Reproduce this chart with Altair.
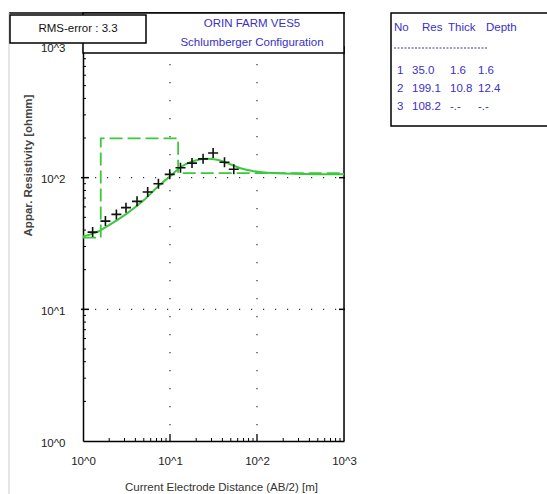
import altair as alt
import pandas as pd

# ---------------- data ----------------
# observed apparent resistivity (AB/2 [m], rho_a [ohm.m])
obs_ab2 = [1.29, 1.81, 2.42, 3.12, 4.18, 5.54, 7.36, 9.93, 13.2, 17.9, 24.0, 31.3, 42.3, 54.1]
obs_rho = [38.6, 46.8, 52.6, 59.2, 66.1, 77.8, 90.0, 106, 119, 129, 139, 154, 131, 116]

# calculated model curve
fit_ab2 = [1.0, 1.55, 2.06, 3.21, 4.98, 7.76, 10.1, 13.2, 18.7, 26.7, 34.8, 45.4, 64.6, 91.9, 131, 265, 1000]
fit_rho = [35.8, 39.5, 44.2, 53.6, 67.3, 89.0, 103, 120, 134, 139, 137, 129, 118, 112, 109, 107, 106]

# layered model
layer_no = ["1", "2", "3"]
layer_res = [35.0, 199.1, 108.2]
layer_thick = ["1.6", "10.8", "-.-"]
layer_depth = ["1.6", "12.4", "-.-"]
depth_vals = [1.6, 12.4]

rms_text = "RMS-error :  3.3"
title_lines = ["ORIN FARM VES5", "Schlumberger Configuration"]
table_header = ["No", "Res", "Thick", "Depth"]

major_vals = [1, 10, 100, 1000]
minor_vals = [m * 10 ** k for k in range(3) for m in range(2, 10)]
inner_major = [10, 100]

# ---------------- layout ----------------
W, H = 261, 395
OX, OY = 83, 46
FONT = "Liberation Sans"
FS = 11.5
BLUE = "#3a2fc8"
GREEN = "#3cc83c"

xs = alt.Scale(type="log", domain=[1, 1000])
ys = alt.Scale(type="log", domain=[1, 1000])

obs_df = pd.DataFrame({"ab2": obs_ab2, "rho": obs_rho})
fit_df = pd.DataFrame({"ab2": fit_ab2, "rho": fit_rho, "i": range(len(fit_ab2))})

# step model
bounds = [1.0] + depth_vals + [1000.0]
step_x, step_y = [], []
for k, r in enumerate(layer_res):
    step_x += [bounds[k], bounds[k + 1]]
    step_y += [r, r]
step_df = pd.DataFrame({"ab2": step_x, "rho": step_y, "i": range(len(step_x))})

xaxis = alt.Axis(values=major_vals, labelExpr="'10^' + round(log(datum.value)/LN10)",
                 ticks=False, grid=False, domainColor="#000", domainWidth=1.5,
                 labelFont=FONT, labelFontSize=FS, labelColor="#222", labelPadding=14,
                 labelFlush=False, labelOverlap=False,
                 title="Current Electrode Distance (AB/2) [m]", titleFont=FONT,
                 titleFontSize=FS, titleFontWeight="normal", titleColor="#333",
                 titleX=138, titleY=46, titleAlign="center", titleBaseline="middle")
yaxis = alt.Axis(values=major_vals, labelExpr="'10^' + round(log(datum.value)/LN10)",
                 ticks=False, grid=False, domainColor="#000", domainWidth=1.5,
                 labelFont=FONT, labelFontSize=FS, labelColor="#222", labelPadding=18,
                 labelOffset=2, labelFlush=False, labelOverlap=False,
                 title="Appar. Resistivity [ohmm]", titleFont=FONT, titleFontSize=FS,
                 titleFontWeight="bold", titleColor="#444", titleAngle=270,
                 titleX=-55, titleY=119, titleAlign="center", titleBaseline="middle")

base_x = alt.X("ab2:Q", scale=xs, axis=xaxis)
base_y = alt.Y("rho:Q", scale=ys, axis=yaxis)

# grid (dotted)
hgrid = alt.Chart(pd.DataFrame({"v": inner_major})).mark_rule(
    color="#333", strokeWidth=1.2, strokeDash=[1.2, 10.8]).encode(
    y=alt.Y("v:Q", scale=ys), x=alt.value(0), x2=alt.value(W))
vgrid = alt.Chart(pd.DataFrame({"v": inner_major})).mark_rule(
    color="#333", strokeWidth=1.2, strokeDash=[1.2, 16.8]).encode(
    x=alt.X("v:Q", scale=xs), y=alt.value(0), y2=alt.value(H))

# ticks
bmin = alt.Chart(pd.DataFrame({"v": minor_vals})).mark_rule(color="#000", strokeWidth=1).encode(
    x=alt.X("v:Q", scale=xs), y=alt.value(H), y2=alt.value(H - 3))
bmaj = alt.Chart(pd.DataFrame({"v": inner_major})).mark_rule(color="#000", strokeWidth=1.3).encode(
    x=alt.X("v:Q", scale=xs), y=alt.value(H), y2=alt.value(H - 7))
lmin = alt.Chart(pd.DataFrame({"v": minor_vals})).mark_rule(color="#000", strokeWidth=1).encode(
    y=alt.Y("v:Q", scale=ys), x=alt.value(0), x2=alt.value(3))
lmaj = alt.Chart(pd.DataFrame({"v": inner_major})).mark_rule(color="#000", strokeWidth=1.5).encode(
    y=alt.Y("v:Q", scale=ys), x=alt.value(-2), x2=alt.value(6))
rmaj = alt.Chart(pd.DataFrame({"v": inner_major})).mark_rule(color="#000", strokeWidth=1.5).encode(
    y=alt.Y("v:Q", scale=ys), x=alt.value(W - 5), x2=alt.value(W + 1))
rframe = alt.Chart(pd.DataFrame({"v": [1]})).mark_rule(color="#000", strokeWidth=1.5).encode(
    x=alt.value(W), y=alt.value(0), y2=alt.value(H))

# data layers
step = alt.Chart(step_df).mark_line(color=GREEN, strokeWidth=1.8, strokeDash=[13, 5]).encode(
    x=base_x, y=base_y, order="i:Q")
fit = alt.Chart(fit_df).mark_line(color=GREEN, strokeWidth=2, interpolate="monotone").encode(
    x=alt.X("ab2:Q", scale=xs), y=alt.Y("rho:Q", scale=ys), order="i:Q")
obs = alt.Chart(obs_df).mark_point(
    shape="M-1,0L1,0M0,-1L0,1", size=100, filled=False, color="#111", strokeWidth=1.6, opacity=1).encode(
    x=alt.X("ab2:Q", scale=xs), y=alt.Y("rho:Q", scale=ys))

# header / boxes
one = pd.DataFrame({"v": [1]})
outer_top = alt.Chart(one).mark_rule(color="#000", strokeWidth=1.5).encode(
    x=alt.value(9 - OX), x2=alt.value(345 - OX), y=alt.value(13 - OY))
outer_left = alt.Chart(one).mark_rule(color="#ccc", strokeWidth=1).encode(
    x=alt.value(9 - OX), y=alt.value(13 - OY), y2=alt.value(494 - OY))
title_box = alt.Chart(one).mark_rect(fill="white", stroke="#000", strokeWidth=1.5).encode(
    x=alt.value(0), x2=alt.value(W), y=alt.value(13 - OY), y2=alt.value(53 - OY))
rms_box = alt.Chart(one).mark_rect(fill="white", stroke="#000", strokeWidth=1.5).encode(
    x=alt.value(10 - OX), x2=alt.value(146 - OX), y=alt.value(15 - OY), y2=alt.value(43 - OY))
rms = alt.Chart(one).mark_text(font=FONT, fontSize=FS, color="#111", baseline="middle").encode(
    x=alt.value(78 - OX), y=alt.value(29 - OY), text=alt.value(rms_text))
title_df = pd.DataFrame({"t": title_lines, "py": [24 - OY, 43 - OY]})
titles = alt.Chart(title_df).mark_text(font=FONT, fontSize=FS, color=BLUE, baseline="middle").encode(
    x=alt.value(252 - OX), y=alt.Y("py:Q", scale=None), text="t:N")

table_box = alt.Chart(one).mark_rect(fill="white", stroke="#000", strokeWidth=1.5).encode(
    x=alt.value(391 - OX), x2=alt.value(560 - OX), y=alt.value(13 - OY), y2=alt.value(126 - OY))
hdr_x = [394, 422, 448, 486]
hdr_df = pd.DataFrame({"t": table_header, "px": [v - OX for v in hdr_x]})
hdr = alt.Chart(hdr_df).mark_text(font=FONT, fontSize=FS, color=BLUE, baseline="middle", align="left").encode(
    x=alt.X("px:Q", scale=None), y=alt.value(28 - OY), text="t:N")
dash = alt.Chart(one).mark_rule(color=BLUE, strokeWidth=1, strokeDash=[2, 1.5]).encode(
    x=alt.value(394 - OX), x2=alt.value(488 - OX), y=alt.value(48 - OY))
cell_x = [397, 412, 450, 478]
row_y = [71, 89, 107]
cells = []
for r in range(len(layer_no)):
    vals = [layer_no[r], f"{layer_res[r]:.1f}", layer_thick[r], layer_depth[r]]
    for c, v in enumerate(vals):
        cells.append({"t": v, "px": cell_x[c] - OX, "py": row_y[r] - OY})
cell_df = pd.DataFrame(cells)
table = alt.Chart(cell_df).mark_text(font=FONT, fontSize=FS, color=BLUE, baseline="middle", align="left").encode(
    x=alt.X("px:Q", scale=None), y=alt.Y("py:Q", scale=None), text="t:N")

chart = alt.layer(
    hgrid, vgrid, bmin, bmaj, lmin, lmaj, rmaj, rframe,
    step, fit, obs,
    outer_top, outer_left, title_box, rms_box, rms, titles,
    table_box, hdr, dash, table,
).properties(
    width=W, height=H,
    autosize=alt.AutoSizeParams(type="none"),
    padding={"left": OX, "top": OY, "right": 547 - OX - W, "bottom": 494 - OY - H},
).configure_view(stroke=None).configure(background="white")

chart.save("out.html", embed_options={"renderer": "svg", "actions": False})
